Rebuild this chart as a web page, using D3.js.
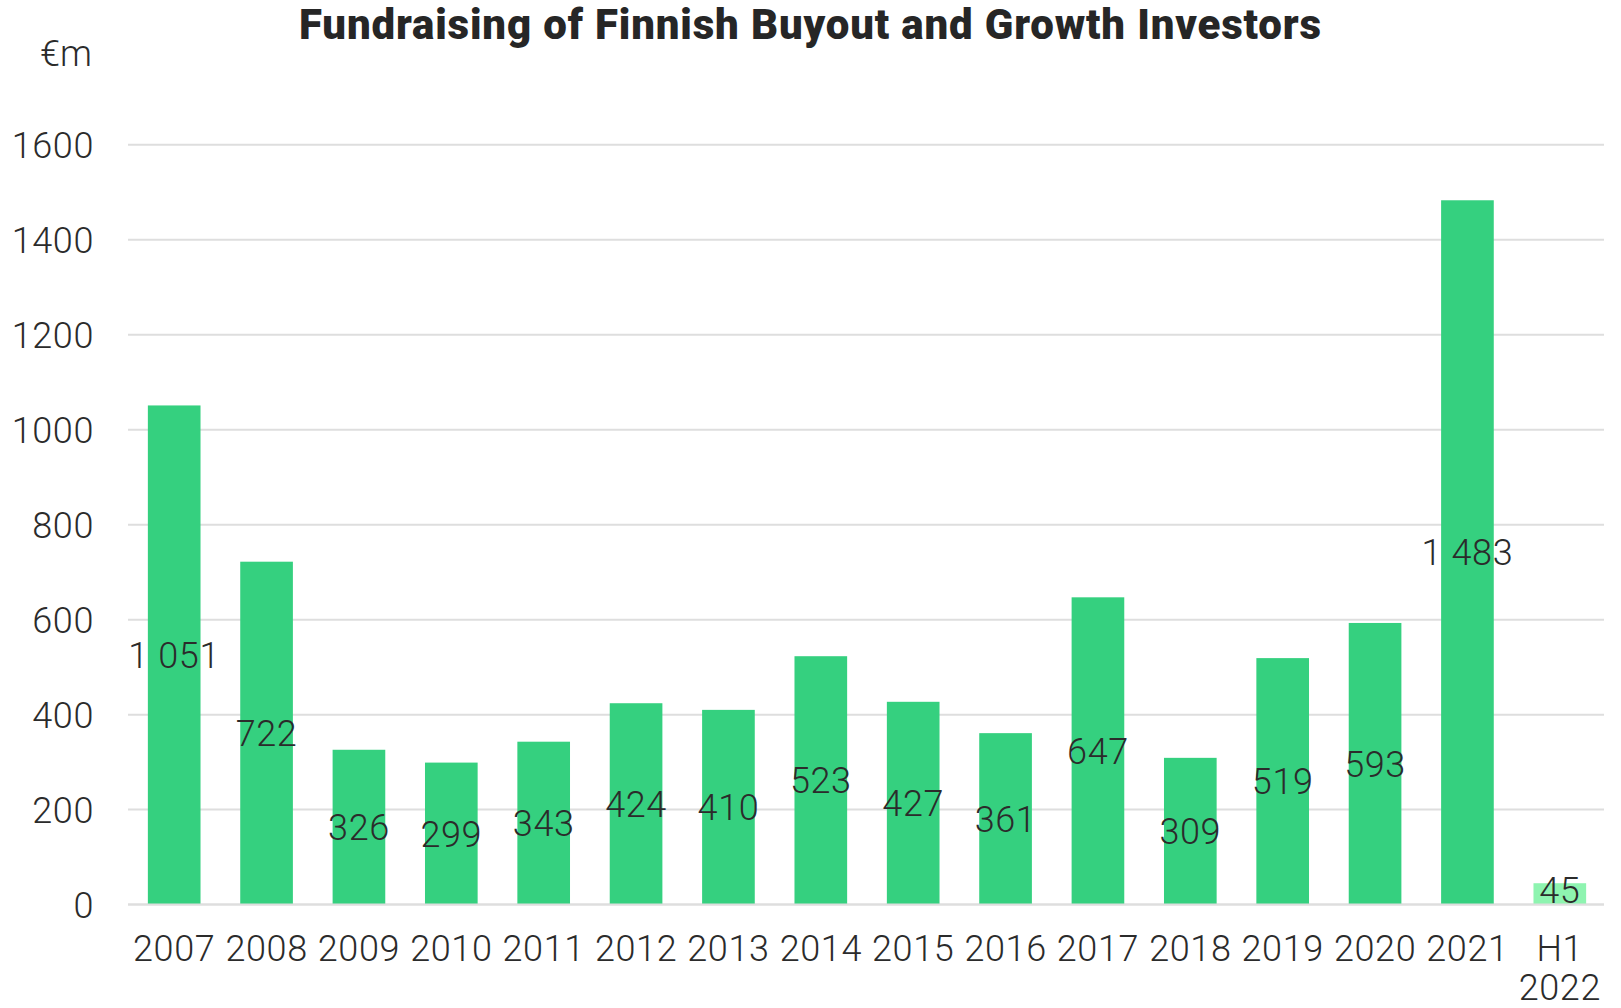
<!DOCTYPE html>
<html>
<head>
<meta charset="utf-8">
<script src="https://cdn.jsdelivr.net/npm/d3@7"></script>
<style>
  body { margin: 0; background: #fff; }
  text { font-family: Roboto, "Noto Sans", sans-serif; }
</style>
</head>
<body>
<svg id="chart" width="1621" height="1008"></svg>
<script>
// data
var years = ["2007","2008","2009","2010","2011","2012","2013","2014","2015","2016","2017","2018","2019","2020","2021","H1 2022"];
var values = [1051, 722, 326, 299, 343, 424, 410, 523, 427, 361, 647, 309, 519, 593, 1483, 45];
var labels = ["1 051","722","326","299","343","424","410","523","427","361","647","309","519","593","1 483","45"];
var yTicks = [0, 200, 400, 600, 800, 1000, 1200, 1400, 1600];

var svg = d3.select("#chart"),
    plotLeft = 128, plotRight = 1606,
    plotTop = 144.7, plotBottom = 904.6,
    fs = 36, ls = 0.6, ink = "#2b2b2b";

var xScale = d3.scaleBand()
    .domain(years)
    .range([plotLeft, plotRight])
    .paddingInner(0.43)
    .paddingOuter(0.215);

var yScale = d3.scaleLinear()
    .domain([0, 1600])
    .range([plotBottom, plotTop]);

// gridlines
svg.append("g").selectAll("line")
    .data(yTicks)
    .enter().append("line")
    .attr("x1", plotLeft).attr("x2", 1604)
    .attr("y1", function(d) { return yScale(d); })
    .attr("y2", function(d) { return yScale(d); })
    .attr("stroke", "#dedede")
    .attr("stroke-width", 2);

// y axis labels
var yAxis = d3.axisLeft(yScale).tickValues(yTicks).tickFormat(d3.format("d")).tickSize(0).tickPadding(0);
svg.append("g")
    .attr("transform", "translate(94,0)")
    .call(yAxis)
    .call(function(g) { g.select(".domain").remove(); })
    .selectAll("text")
    .attr("font-family", "Roboto, sans-serif")
    .attr("font-weight", 300)
    .attr("font-size", fs)
    .attr("letter-spacing", ls)
    .attr("fill", ink)
    .attr("dy", "0.36em");

svg.append("text")
    .attr("x", 92).attr("y", 66)
    .attr("text-anchor", "end")
    .attr("font-weight", 300)
    .attr("font-size", fs)
    .attr("fill", ink)
    .text("€m");

// bars
svg.append("g").selectAll("rect")
    .data(values)
    .enter().append("rect")
    .attr("x", function(d, i) { return xScale(years[i]); })
    .attr("width", xScale.bandwidth())
    .attr("y", function(d) { return yScale(d); })
    .attr("height", function(d) { return plotBottom - yScale(d); })
    .attr("fill", function(d, i) { return years[i] === "H1 2022" ? "#8ef4b0" : "#35d07f"; });

// value labels in the middle of each bar
svg.append("g").selectAll("text")
    .data(values)
    .enter().append("text")
    .attr("x", function(d, i) { return xScale(years[i]) + xScale.bandwidth() / 2; })
    .attr("y", function(d) { return (yScale(d) + plotBottom) / 2 - (d < 100 ? 4 : 0); })
    .attr("dy", "0.36em")
    .attr("text-anchor", "middle")
    .attr("font-weight", 300)
    .attr("font-size", fs)
    .attr("letter-spacing", ls)
    .attr("fill", ink)
    .text(function(d, i) { return labels[i]; });

// x axis labels
var xl = svg.append("g").selectAll("text")
    .data(years)
    .enter().append("text")
    .attr("x", function(d) { return xScale(d) + xScale.bandwidth() / 2; })
    .attr("y", 961)
    .attr("text-anchor", "middle")
    .attr("font-weight", 300)
    .attr("font-size", fs)
    .attr("letter-spacing", ls)
    .attr("fill", ink);
xl.each(function(d) {
    var parts = d.split(" ");
    var t = d3.select(this);
    parts.forEach(function(p, k) {
        t.append("tspan")
            .attr("x", t.attr("x"))
            .attr("dy", k === 0 ? 0 : 39)
            .text(p);
    });
});

// baseline
svg.append("line")
    .attr("x1", plotLeft).attr("x2", 1604)
    .attr("y1", plotBottom).attr("y2", plotBottom)
    .attr("stroke", "#dedede").attr("stroke-width", 2);

// title
svg.append("text")
    .attr("x", 810).attr("y", 39)
    .attr("text-anchor", "middle")
    .attr("font-family", "Roboto, sans-serif")
    .attr("font-weight", 900)
    .attr("font-size", 42)
    .attr("textLength", 1022)
    .attr("lengthAdjust", "spacing")
    .attr("fill", "#262626")
    .text("Fundraising of Finnish Buyout and Growth Investors");
</script>
</body>
</html>
